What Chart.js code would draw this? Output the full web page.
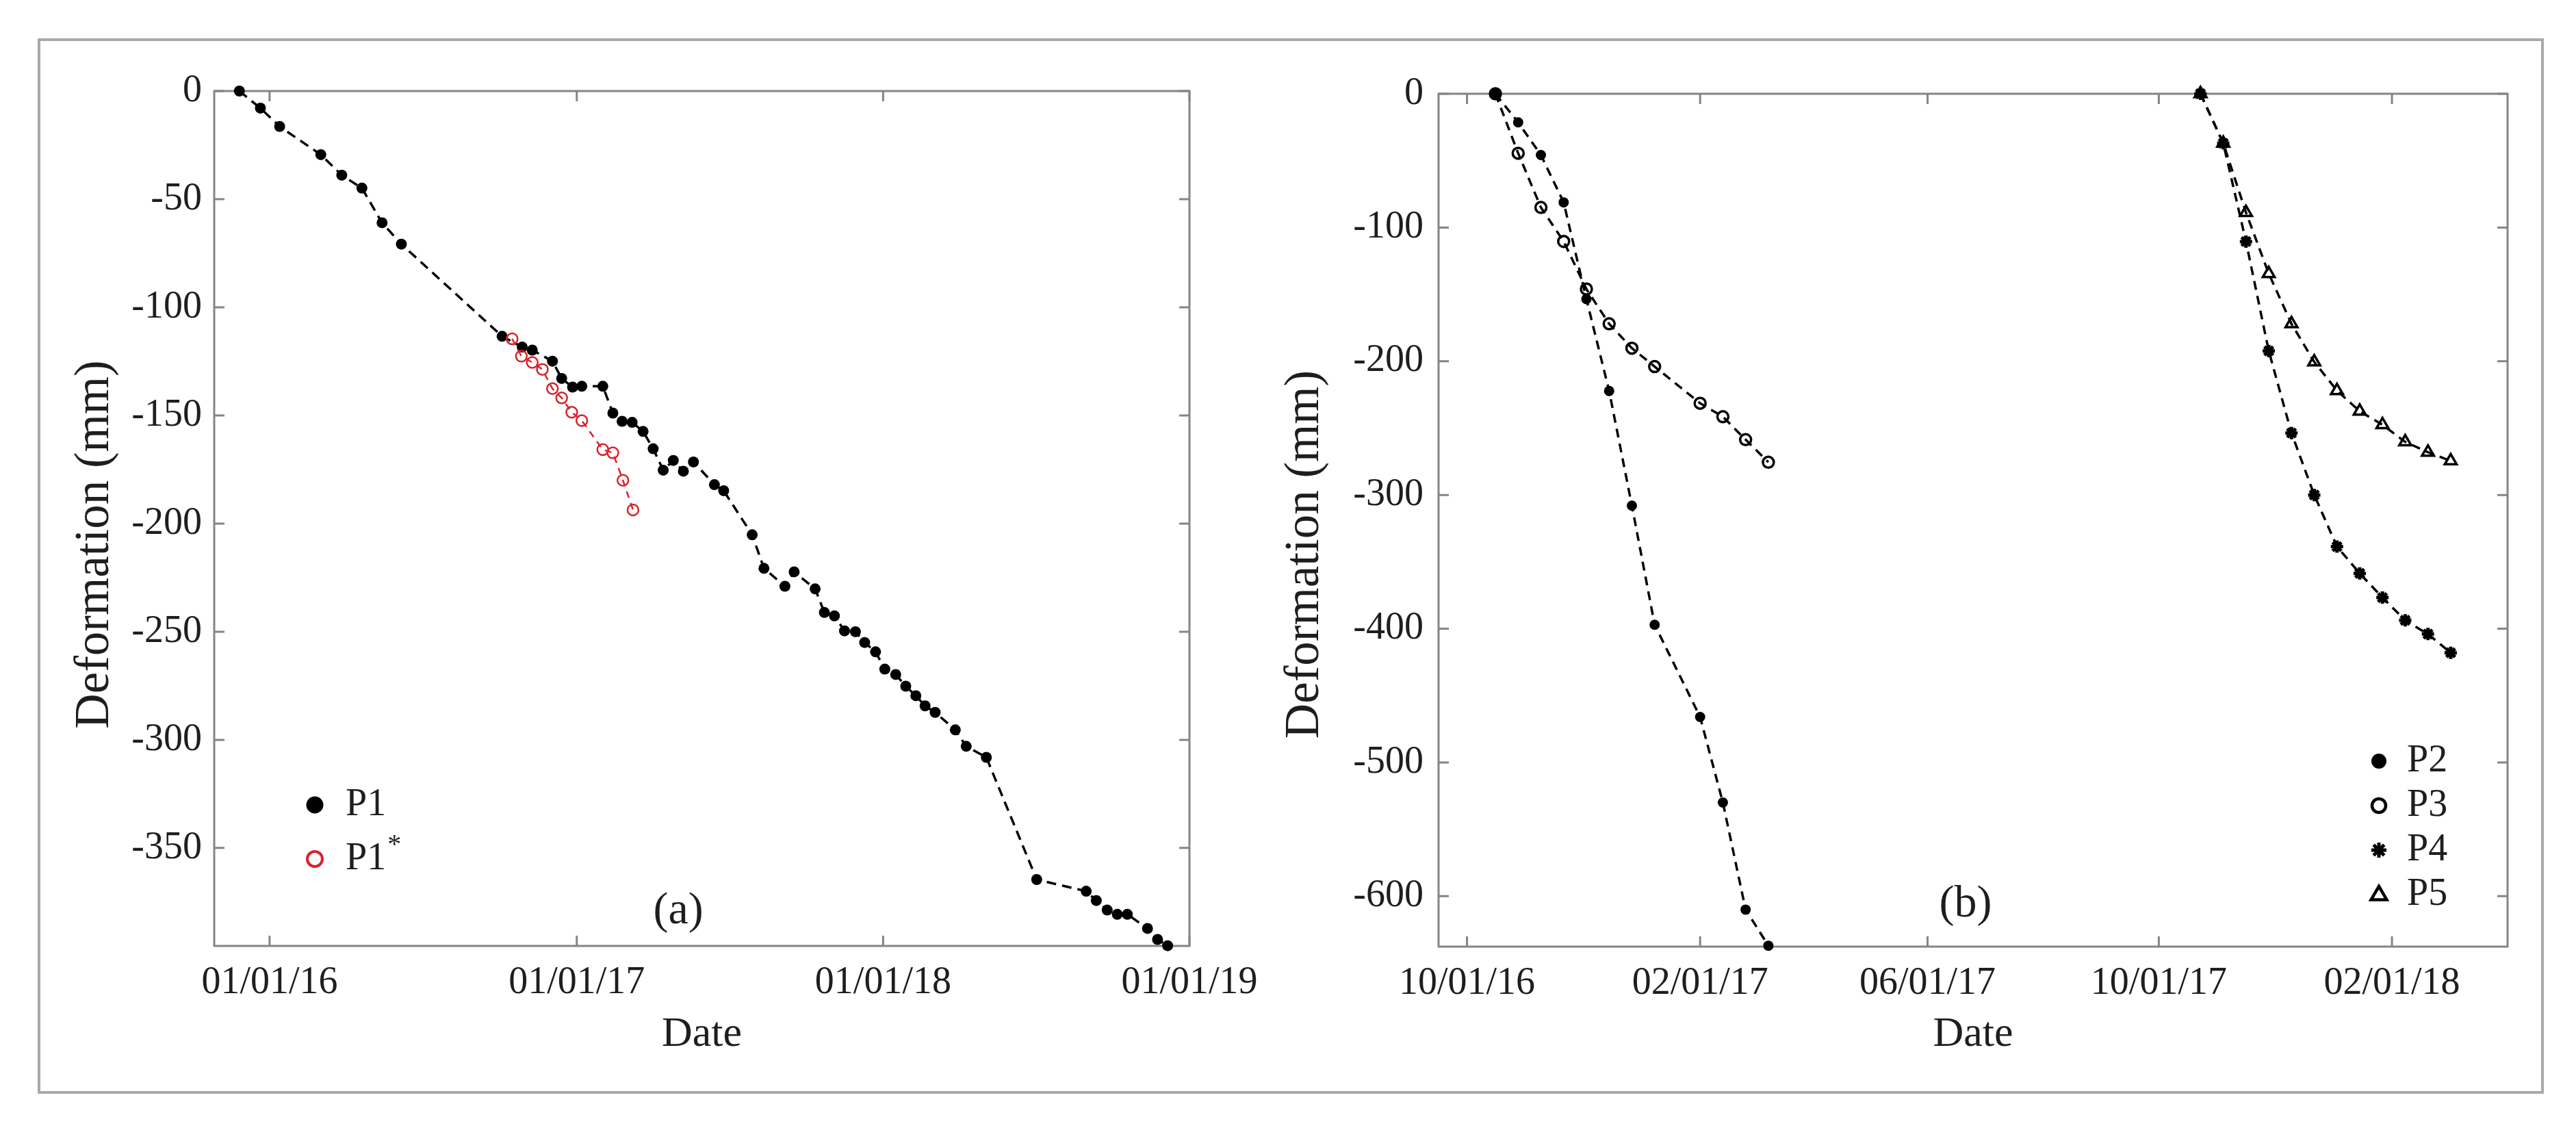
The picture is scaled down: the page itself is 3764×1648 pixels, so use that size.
<!DOCTYPE html>
<html>
<head>
<meta charset="utf-8">
<script src="https://cdn.jsdelivr.net/npm/chart.js@4.4.1/dist/chart.umd.min.js"></script>
<style>
  html, body { margin: 0; padding: 0; background: #fff; }
  #page { position: relative; width: 3764px; height: 1648px; overflow: hidden;
          font-family: "Liberation Serif", serif; }
  #frame { position: absolute; left: 55px; top: 56px; width: 3662px; height: 1542px;
           border: 4px solid #a9a9a9; box-sizing: border-box; }
  .box { position: absolute; top: 0; height: 1648px; }
  #boxA { left: 0; width: 1860px; }
  #boxB { left: 1840px; width: 1924px; }
  #warm { position: absolute; left: -9999px; font-family: "Liberation Serif"; }
</style>
</head>
<body>
<div id="page">
  <div id="frame"></div>
  <div class="box" id="boxA"><canvas id="chartA" width="1860" height="1648"></canvas></div>
  <div class="box" id="boxB"><canvas id="chartB" width="1924" height="1648"></canvas></div>
  <span id="warm">Deformation (mm) Date 0123456789</span>
</div>
<script>
// ---- panel (a) data ----
var p1Dates = ['2015-11-26','2015-12-21','2016-01-13','2016-03-02','2016-03-27','2016-04-20','2016-05-14','2016-06-06',
  '2016-10-04','2016-10-28','2016-11-09','2016-12-03','2016-12-14','2016-12-27','2017-01-07','2017-02-01',
  '2017-02-13','2017-02-24','2017-03-08','2017-03-21','2017-04-02','2017-04-14','2017-04-26','2017-05-08',
  '2017-05-20','2017-06-14','2017-06-25','2017-07-29','2017-08-12','2017-09-06','2017-09-17','2017-10-12',
  '2017-10-23','2017-11-04','2017-11-16','2017-11-29','2017-12-10','2017-12-23','2018-01-03','2018-01-16',
  '2018-01-28','2018-02-09','2018-02-20','2018-03-04','2018-03-28','2018-04-10','2018-05-04','2018-07-03',
  '2018-08-31','2018-09-12','2018-09-25','2018-10-07','2018-10-19','2018-11-12','2018-11-24','2018-12-06'];
var p1Values = [0,-7.9,-16.4,-29.4,-38.9,-44.9,-60.9,-70.8,
  -113.4,-118.4,-119.8,-124.9,-132.9,-136.9,-136.5,-136.5,
  -148.9,-152.7,-153.2,-157.4,-165.4,-175.3,-170.8,-175.8,
  -171.5,-182,-184.8,-205.2,-220.7,-229,-222.3,-230.2,
  -241.1,-242.7,-249.6,-250,-255,-259.3,-267.3,-269.8,
  -275.2,-279.6,-284.3,-287.3,-295.4,-303,-308.1,-364.6,
  -370,-374.3,-378.7,-380.7,-380.7,-387.2,-392.3,-395.2];

var p1sDates = ['2016-10-16','2016-10-27','2016-11-09','2016-11-21','2016-12-03','2016-12-14',
  '2016-12-26','2017-01-07','2017-02-01','2017-02-13','2017-02-25','2017-03-09'];
var p1sValues = [-114.6,-122.6,-125.5,-128.7,-137.6,-141.9,-148.5,-152.4,-165.8,-167.3,-180,-193.7];

var xTicksA = ['2016-01-01','2017-01-01','2018-01-01','2019-01-01'];
var xTickLabelsA = ['01/01/16','01/01/17','01/01/18','01/01/19'];
var yTicksA = [0,-50,-100,-150,-200,-250,-300,-350];

// ---- panel (b) data ----
var p23Dates = ['2016-10-16','2016-10-28','2016-11-09','2016-11-21','2016-12-03','2016-12-15',
  '2016-12-27','2017-01-08','2017-02-01','2017-02-13','2017-02-25','2017-03-09'];
var p2Values = [0,-21.4,-45.8,-81.2,-153.5,-222.2,-308,-397,-466,-530,-610,-637];
var p3Values = [0,-44.5,-85,-110.4,-146,-172,-190.2,-204,-231.4,-241.5,-258.6,-275.5];

var p45Dates = ['2017-10-23','2017-11-04','2017-11-16','2017-11-28','2017-12-10','2017-12-22',
  '2018-01-03','2018-01-15','2018-01-27','2018-02-08','2018-02-20','2018-03-04'];
var p4Values = [0,-37,-110.5,-192.3,-253.7,-300,-338.6,-358.6,-376.7,-393.7,-404,-418];
var p5Values = [0,-37,-88.8,-134.5,-172,-200.5,-222,-237.4,-247.5,-260.3,-268,-274.5];

var xTicksB = ['2016-10-01','2017-02-01','2017-06-01','2017-10-01','2018-02-01'];
var xTickLabelsB = ['10/01/16','02/01/17','06/01/17','10/01/17','02/01/18'];
var yTicksB = [0,-100,-200,-300,-400,-500,-600];

// ---- style ----
var serif = '"Liberation Serif", serif';
var textColor = '#1e1e1e';
var axisColor = '#858585';
var red = '#d9222b';
var clear = 'rgba(0,0,0,0)';

Chart.defaults.font.family = serif;

function toPoints(dates, values) {
  return dates.map(function (d, i) { return { x: Date.parse(d), y: values[i] }; });
}

function drawMarker(ctx, style, x, y, r, fill, stroke, lw) {
  ctx.save();
  ctx.fillStyle = fill;
  ctx.strokeStyle = stroke;
  ctx.lineWidth = lw;
  ctx.setLineDash([]);
  ctx.beginPath();
  if (style === 'circle') {
    ctx.arc(x, y, r, 0, Math.PI * 2);
    ctx.fill();
    if (lw > 0) ctx.stroke();
  } else if (style === 'triangle') {
    ctx.moveTo(x, y - r);
    ctx.lineTo(x + r * 0.95, y + r * 0.62);
    ctx.lineTo(x - r * 0.95, y + r * 0.62);
    ctx.closePath();
    ctx.fill();
    ctx.stroke();
  } else if (style === 'star') {
    for (var k = 0; k < 4; k++) {
      var a = k * Math.PI / 4;
      ctx.moveTo(x + Math.cos(a) * r, y + Math.sin(a) * r);
      ctx.lineTo(x - Math.cos(a) * r, y - Math.sin(a) * r);
    }
    ctx.stroke();
  }
  ctx.restore();
}

// box with inward ticks on all four sides, like the original figure
var framePlugin = {
  id: 'frame',
  beforeDatasetsDraw: function (chart) {
    var a = chart.chartArea, ctx = chart.ctx;
    var xs = chart.scales.x, ys = chart.scales.y;
    var len = 15;
    ctx.save();
    ctx.strokeStyle = axisColor;
    ctx.lineWidth = 3;
    ctx.strokeRect(a.left, a.top, a.right - a.left, a.bottom - a.top);
    ctx.beginPath();
    xs.ticks.forEach(function (t) {
      var px = xs.getPixelForValue(t.value);
      ctx.moveTo(px, a.bottom); ctx.lineTo(px, a.bottom - len);
      ctx.moveTo(px, a.top); ctx.lineTo(px, a.top + len);
    });
    ys.ticks.forEach(function (t) {
      var py = ys.getPixelForValue(t.value);
      ctx.moveTo(a.left, py); ctx.lineTo(a.left + len, py);
      ctx.moveTo(a.right, py); ctx.lineTo(a.right - len, py);
    });
    ctx.stroke();
    ctx.restore();
  }
};

// y title, panel tag and legend
var panelPlugin = {
  id: 'panel',
  afterDraw: function (chart, args, opts) {
    var ctx = chart.ctx, a = chart.chartArea;
    var xs = chart.scales.x, ys = chart.scales.y;
    ctx.save();
    ctx.fillStyle = textColor;
    ctx.textBaseline = 'middle';
    ctx.textAlign = 'center';

    // rotated y-axis title, sitting a bit below the middle of the axis as in the figure
    ctx.save();
    ctx.translate(opts.yTitleX, (a.top + a.bottom) / 2 + opts.yTitleShift);
    ctx.rotate(-Math.PI / 2);
    ctx.font = '71px ' + serif;
    ctx.fillText('Deformation (mm)', 0, 0);
    ctx.restore();

    ctx.font = '66px ' + serif;
    ctx.fillText(opts.tag, xs.getPixelForValue(Date.parse(opts.tagDate)), ys.getPixelForValue(opts.tagValue));

    ctx.textAlign = 'left';
    chart.data.datasets.forEach(function (ds, i) {
      var cx = a.left + opts.legendLeft;
      var cy = a.top + opts.legendTop + i * opts.legendGap;
      drawMarker(ctx, ds.pointStyle, cx, cy, opts.markerRadius[i],
        ds.pointBackgroundColor, ds.pointBorderColor, opts.markerLine[i]);
      ctx.fillStyle = textColor;
      ctx.font = '56px ' + serif;
      var label = ds.label;
      var sup = '';
      if (label.charAt(label.length - 1) === '*') { sup = '*'; label = label.slice(0, -1); }
      ctx.fillText(label, cx + opts.textOffset, cy);
      if (sup) {
        var w = ctx.measureText(label).width;
        ctx.font = '40px ' + serif;
        ctx.fillText(sup, cx + opts.textOffset + w + 2, cy - 20);
      }
    });
    ctx.restore();
  }
};

function xScale(min, max, ticks, labels, height) {
  var tickMs = ticks.map(function (d) { return Date.parse(d); });
  return {
    type: 'linear',
    min: Date.parse(min),
    max: Date.parse(max),
    afterBuildTicks: function (scale) {
      scale.ticks = tickMs.map(function (v) { return { value: v }; });
    },
    afterFit: function (scale) { scale.height = height; },
    grid: { display: false, drawTicks: false },
    border: { display: false },
    ticks: {
      font: { family: serif, size: 56 },
      color: textColor,
      padding: 21,
      maxRotation: 0,
      autoSkip: false,
      callback: function (value, index) { return labels[index]; }
    },
    title: {
      display: true, text: 'Date', color: textColor,
      font: { family: serif, size: 62 },
      padding: { top: 0, bottom: 99 }
    }
  };
}

function yScale(min, ticks, width, labelPad) {
  return {
    type: 'linear',
    min: min,
    max: 0,
    afterBuildTicks: function (scale) {
      scale.ticks = ticks.map(function (v) { return { value: v }; });
    },
    afterFit: function (scale) { scale.width = width; },
    grid: { display: false, drawTicks: false },
    border: { display: false },
    ticks: {
      font: { family: serif, size: 56 },
      color: textColor,
      padding: labelPad,
      callback: function (value) { return String(value); }
    },
    title: { display: false }
  };
}

function series(label, points, opt) {
  return {
    label: label,
    data: points,
    borderColor: opt.line,
    borderWidth: opt.lineWidth,
    borderDash: opt.dash,
    pointStyle: opt.style,
    pointRadius: opt.radius,
    pointBackgroundColor: opt.fill,
    pointBorderColor: opt.stroke,
    pointBorderWidth: opt.markerLine,
    tension: 0,
    clip: false,
    order: opt.order || 0
  };
}

var common = {
  responsive: false,
  animation: false,
  events: [],
  plugins: { legend: { display: false }, tooltip: { enabled: false } }
};

function build() {
  new Chart(document.getElementById('chartA'), {
    type: 'line',
    data: {
      datasets: [
        series('P1', toPoints(p1Dates, p1Values),
          { line: '#000', lineWidth: 3.5, dash: [14, 9], style: 'circle', radius: 8,
            fill: '#000', stroke: '#000', markerLine: 0, order: 1 }),
        series('P1*', toPoints(p1sDates, p1sValues),
          { line: red, lineWidth: 2.5, dash: [10, 8], style: 'circle', radius: 8,
            fill: clear, stroke: red, markerLine: 2.5, order: 0 })
      ]
    },
    options: Object.assign({}, common, {
      layout: { padding: { left: 0, top: 133, right: 122, bottom: 0 } },
      scales: {
        x: xScale('2015-10-27', '2019-01-01', xTicksA, xTickLabelsA, 266),
        y: yScale(-395.3, yTicksA, 313, 18)
      },
      plugins: Object.assign({}, common.plugins, {
        panel: { yTitleX: 139, yTitleShift: 38,
                 tag: '(a)', tagDate: '2017-05-02', tagValue: -379.4,
                 legendLeft: 147, legendTop: 1043, legendGap: 79, textOffset: 45,
                 markerRadius: [12.5, 11], markerLine: [0, 4] }
      })
    }),
    plugins: [framePlugin, panelPlugin]
  });

  new Chart(document.getElementById('chartB'), {
    type: 'line',
    data: {
      datasets: [
        series('P2', toPoints(p23Dates, p2Values),
          { line: '#000', lineWidth: 3.5, dash: [13, 9], style: 'circle', radius: 7.5,
            fill: '#000', stroke: '#000', markerLine: 0 }),
        series('P3', toPoints(p23Dates, p3Values),
          { line: '#000', lineWidth: 3.5, dash: [13, 9], style: 'circle', radius: 8,
            fill: clear, stroke: '#000', markerLine: 3.5 }),
        series('P4', toPoints(p45Dates, p4Values),
          { line: '#000', lineWidth: 3.5, dash: [13, 9], style: 'star', radius: 9,
            fill: '#000', stroke: '#000', markerLine: 5 }),
        series('P5', toPoints(p45Dates, p5Values),
          { line: '#000', lineWidth: 3.5, dash: [13, 9], style: 'triangle', radius: 10,
            fill: clear, stroke: '#000', markerLine: 3.5 })
      ]
    },
    options: Object.assign({}, common, {
      layout: { padding: { left: 0, top: 137, right: 100, bottom: 0 } },
      scales: {
        x: xScale('2016-09-16', '2018-04-03', xTicksB, xTickLabelsB, 265),
        y: yScale(-637.7, yTicksB, 262, 22)
      },
      plugins: Object.assign({}, common.plugins, {
        panel: { yTitleX: 67, yTitleShift: 50,
                 tag: '(b)', tagDate: '2017-06-21', tagValue: -606.5,
                 legendLeft: 1374, legendTop: 975, legendGap: 65, textOffset: 41,
                 markerRadius: [11, 10, 11, 12], markerLine: [0, 4.5, 5, 4.5] }
      })
    }),
    plugins: [framePlugin, panelPlugin]
  });
}

if (document.fonts && document.fonts.load) {
  document.fonts.load('56px "Liberation Serif"').then(build, build);
} else {
  build();
}
</script>
</body>
</html>
